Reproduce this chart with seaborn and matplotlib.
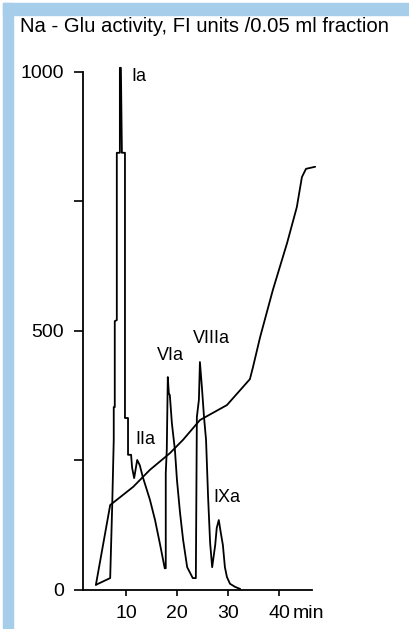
import numpy as np
import pandas as pd
import seaborn as sns
import matplotlib.pyplot as plt
from matplotlib.patches import Rectangle

sns.set_style("ticks")
plt.rcParams['font.family'] = ['Liberation Sans', 'DejaVu Sans']
plt.rcParams['text.color'] = 'black'

# activity curve (FI units per fraction)
akt_min = [4.1, 6.9, 7.3, 7.6, 7.6, 7.8, 7.8, 8.2, 8.2, 8.8, 8.8, 9.0, 9.2, 9.8, 9.8, 9.8, 10.4,
           10.4, 11.0, 11.2, 11.6, 12.2, 12.7, 13.3, 14.7, 15.7, 16.7, 17.6,
           17.8, 17.8, 18.0, 18.2, 18.4, 18.6, 19.0, 19.6, 20.0, 20.6, 21.2, 22.0, 23.1,
           23.7, 23.9, 24.3, 24.5, 24.9, 25.3, 25.7, 26.1, 26.5, 26.9,
           27.5, 27.8, 28.2, 28.6, 29.0, 29.4, 29.8, 30.4, 31.4, 32.4]
akt_fi = [10, 23, 164, 290, 353, 353, 519, 521, 844, 844, 1008, 1008, 844, 844, 521, 332, 332,
          261, 261, 236, 216, 251, 241, 218, 174, 135, 87, 42,
          42, 226, 270, 411, 380, 376, 322, 270, 212, 149, 97, 44, 23,
          23, 334, 367, 440, 390, 334, 290, 180, 91, 44,
          87, 120, 135, 110, 87, 44, 25, 12, 6, 2]

# gradient line
grad_min = [4.1, 6.9, 11.4, 14.7, 18.6, 21.2, 24.5, 29.8, 34.3, 34.9, 36.3, 38.8, 41.6, 43.5, 44.5, 45.3, 47.1]
grad_val = [10, 164, 199, 232, 264, 290, 328, 357, 407, 430, 488, 579, 670, 739, 797, 813, 817]

# peak labels
peak_names = ['Ia', 'IIa', 'VIa', 'VIIIa', 'IXa']
peak_x = [11.0, 11.8, 16.1, 23.1, 27.1]
peak_y = [992, 291, 452, 486, 178]

df_akt = pd.DataFrame({'min': akt_min, 'fi': akt_fi})
df_grad = pd.DataFrame({'min': grad_min, 'fi': grad_val})

fig = plt.figure(figsize=(4.09, 6.29), dpi=100)
W, H = 409, 629

# light blue frame on left and top
fig.patches.append(Rectangle((3 / W, 0), 10 / W, (H - 3) / H, transform=fig.transFigure,
                             color='#a6cde9', zorder=0))
fig.patches.append(Rectangle((3 / W, (H - 15) / H), (W - 3) / W, 12 / H, transform=fig.transFigure,
                             color='#a6cde9', zorder=0))

ax = fig.add_axes([83 / W, 39 / H, 234.2 / W, 528.4 / H])
ax.set_facecolor('none')
sns.lineplot(data=df_akt, x='min', y='fi', sort=False, estimator=None, color='black', lw=1.3, ax=ax)
sns.lineplot(data=df_grad, x='min', y='fi', sort=False, estimator=None, color='black', lw=1.3, ax=ax)

ax.set_xlim(1.57, 47.5)
ax.set_ylim(0, 1020)
ax.spines['top'].set_visible(False)
ax.spines['right'].set_visible(False)
ax.spines['left'].set_bounds(0, 1000)
ax.spines['bottom'].set_bounds(1.57, 46.5)
for s in ['left', 'bottom']:
    ax.spines[s].set_linewidth(1.3)
    ax.spines[s].set_color('black')

ax.set_yticks([0, 250, 500, 750, 1000])
ax.set_yticklabels(['0', '', '500', '', '1000'])
ax.set_xticks([10, 20, 30, 40])
ax.set_xticklabels(['10', '20', '30', '40'])
ax.tick_params(axis='both', width=1.2, color='black', labelsize=14, labelcolor='black')
ax.tick_params(axis='y', length=6.5, pad=7)
ax.tick_params(axis='x', length=4, pad=7)
ax.set_xlabel('')
ax.set_ylabel('')

ax.text(42.7, -46, 'min', fontsize=14, ha='left', va='center', clip_on=False)
for name, px, py in zip(peak_names, peak_x, peak_y):
    ax.text(px, py, name, fontsize=13, ha='left', va='center')

fig.text(20 / W, (H - 27) / H, 'Na - Glu activity, FI units /0.05 ml fraction', fontsize=14.6,
         ha='left', va='center')

fig.savefig('out.png', dpi=100, facecolor='white')
